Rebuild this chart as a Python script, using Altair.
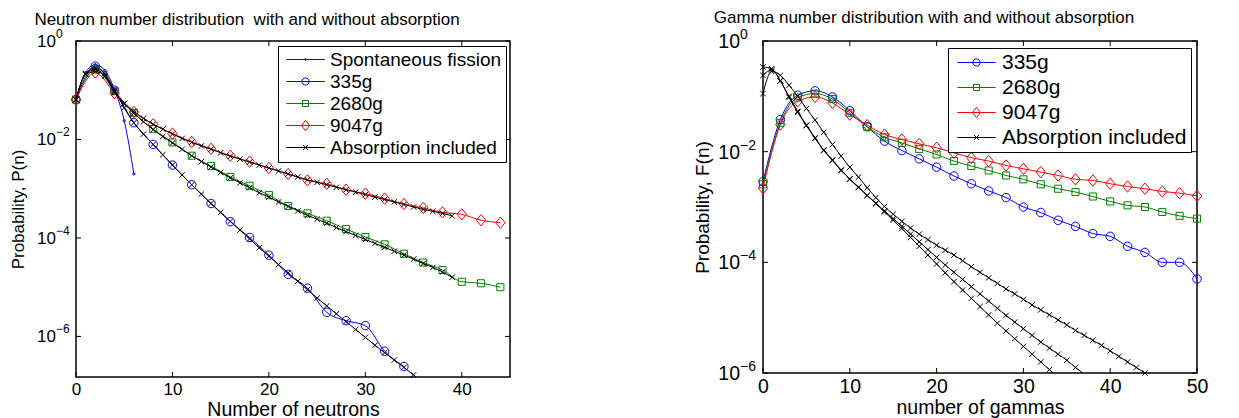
import altair as alt
import pandas as pd

FONT = "Liberation Sans"
BLUE, GREEN, RED, BLACK = "#0000ff", "#008000", "#ff0000", "#000000"
ABS = "Absorption included"

# ---------------- Neutron panel (log10 of probability) ----------------
sf_n = [0, 1, 2, 3, 4, 5, 6]
sf_log10 = [-1.18, -0.64, -0.48, -0.60, -0.99, -1.62, -2.70]

n_even_34 = [0, 2, 4, 6, 8, 10, 12, 14, 16, 18, 20, 22, 24, 26, 28, 30, 32, 34]
n_even_44 = [0, 2, 4, 6, 8, 10, 12, 14, 16, 18, 20, 22, 24, 26, 28, 30, 32, 34,
             36, 38, 40, 42, 44]
neutron_335g_log10 = [-1.19, -0.51, -1.00, -1.66, -2.10, -2.52, -2.92, -3.30, -3.67,
                      -3.99, -4.35, -4.74, -5.02, -5.51, -5.68, -5.78, -6.30, -6.61]
neutron_2680g_log10 = [-1.19, -0.58, -1.02, -1.46, -1.79, -2.06, -2.33, -2.54, -2.76,
                       -2.94, -3.13, -3.35, -3.50, -3.65, -3.82, -3.98, -4.13, -4.32,
                       -4.50, -4.65, -4.89, -4.92, -5.00]
neutron_9047g_log10 = [-1.19, -0.64, -1.06, -1.44, -1.69, -1.88, -2.05, -2.19, -2.33,
                       -2.45, -2.58, -2.70, -2.83, -2.90, -3.02, -3.10, -3.20, -3.31,
                       -3.39, -3.48, -3.52, -3.64, -3.69]

n_0_35 = list(range(36))
n_0_39 = list(range(40))
neutron_abs_335g_log10 = [-1.19, -0.66, -0.55, -0.66, -1.00, -1.36, -1.66, -1.89, -2.10,
                          -2.31, -2.52, -2.72, -2.92, -3.11, -3.30, -3.48, -3.66, -3.84,
                          -4.02, -4.20, -4.37, -4.54, -4.71, -4.88, -5.05, -5.22, -5.38,
                          -5.54, -5.70, -5.86, -6.02, -6.18, -6.33, -6.48, -6.63, -6.78]
neutron_abs_2680g_log10 = [-1.19, -0.67, -0.58, -0.70, -1.02, -1.27, -1.47, -1.64, -1.80,
                           -1.94, -2.07, -2.20, -2.33, -2.45, -2.56, -2.67, -2.78, -2.88,
                           -2.98, -3.08, -3.17, -3.27, -3.36, -3.45, -3.54, -3.62, -3.70,
                           -3.79, -3.87, -3.95, -4.03, -4.11, -4.19, -4.27, -4.35, -4.43,
                           -4.52, -4.60, -4.69, -4.80]
neutron_abs_9047g_log10 = [-1.19, -0.68, -0.62, -0.72, -1.05, -1.27, -1.43, -1.57, -1.69,
                           -1.79, -1.89, -1.98, -2.06, -2.13, -2.20, -2.27, -2.34, -2.40,
                           -2.46, -2.52, -2.58, -2.64, -2.70, -2.76, -2.82, -2.87, -2.92,
                           -2.97, -3.02, -3.07, -3.12, -3.17, -3.22, -3.27, -3.32, -3.37,
                           -3.42, -3.46, -3.50, -3.55]

# ---------------- Gamma panel (log10 of probability) ----------------
n_even_50 = [0, 2, 4, 6, 8, 10, 12, 14, 16, 18, 20, 22, 24, 26, 28, 30, 32, 34, 36,
             38, 40, 42, 44, 46, 48, 50]
gamma_335g_log10 = [-2.54, -1.42, -0.98, -0.90, -1.01, -1.26, -1.55, -1.81, -1.98, -2.13,
                    -2.28, -2.44, -2.58, -2.71, -2.83, -3.00, -3.10, -3.24, -3.35, -3.48,
                    -3.53, -3.71, -3.82, -4.00, -4.00, -4.30]
gamma_2680g_log10 = [-2.59, -1.48, -1.02, -0.95, -1.05, -1.30, -1.55, -1.74, -1.84, -1.95,
                     -2.05, -2.17, -2.26, -2.34, -2.43, -2.50, -2.59, -2.67, -2.73, -2.81,
                     -2.90, -2.97, -3.00, -3.09, -3.16, -3.21]
gamma_9047g_log10 = [-2.66, -1.51, -1.09, -1.01, -1.12, -1.33, -1.52, -1.69, -1.78, -1.86,
                     -1.93, -2.02, -2.11, -2.17, -2.25, -2.31, -2.37, -2.43, -2.50, -2.52,
                     -2.58, -2.63, -2.67, -2.72, -2.75, -2.80]

n_0_34 = list(range(35))
n_0_38 = list(range(39))
n_0_45 = list(range(46))
gamma_abs_a_log10 = [-0.47, -0.50, -0.72, -1.00, -1.27, -1.52, -1.75, -1.97, -2.15, -2.33,
                     -2.49, -2.64, -2.79, -2.94, -3.09, -3.24, -3.39, -3.55, -3.71, -3.87,
                     -4.03, -4.19, -4.35, -4.50, -4.65, -4.80, -4.95, -5.10, -5.24, -5.38,
                     -5.52, -5.66, -5.80, -5.94, -6.08]
gamma_abs_b_log10 = [-0.62, -0.52, -0.72, -1.02, -1.29, -1.53, -1.76, -1.98, -2.16, -2.34,
                     -2.50, -2.65, -2.79, -2.93, -3.07, -3.21, -3.35, -3.49, -3.63, -3.77,
                     -3.91, -4.05, -4.18, -4.31, -4.44, -4.57, -4.70, -4.83, -4.96, -5.08,
                     -5.20, -5.32, -5.44, -5.55, -5.66, -5.77, -5.90, -6.02, -6.14]
gamma_abs_c_log10 = [-0.95, -0.55, -0.62, -0.80, -1.00, -1.22, -1.43, -1.65, -1.87, -2.08,
                     -2.28, -2.46, -2.65, -2.83, -2.99, -3.13, -3.26, -3.38, -3.49, -3.59,
                     -3.69, -3.78, -3.87, -3.97, -4.08, -4.18, -4.28, -4.38, -4.48, -4.57,
                     -4.67, -4.77, -4.86, -4.95, -5.04, -5.13, -5.23, -5.32, -5.41, -5.50,
                     -5.60, -5.70, -5.80, -5.90, -6.00, -6.10]

# ---------------- ticks ----------------
ytick_values = [1.0, 1e-2, 1e-4, 1e-6]
ytick_base = ["10", "10", "10", "10"]
ytick_exp = ["0", "\u22122", "\u22124", "\u22126"]
xticks_neutron = [0, 10, 20, 30, 40]
xticks_gamma = [0, 10, 20, 30, 40, 50]

# legend symbols: line with marker (custom paths; symbol box is 16px, coords scaled by 8px)
P_LINE = "M-2.4,0L2.4,0"
LEG_DOT = P_LINE + "M-0.12,0A0.12,0.12,0,1,1,0.12,0A0.12,0.12,0,1,1,-0.12,0"
LEG_CIRCLE = P_LINE + "M-0.45,0A0.45,0.45,0,1,1,0.45,0A0.45,0.45,0,1,1,-0.45,0"
LEG_SQUARE = P_LINE + "M-0.38,-0.38L0.38,-0.38L0.38,0.38L-0.38,0.38Z"
LEG_DIAMOND = P_LINE + "M0,-0.65L0.5,0L0,0.65L-0.5,0Z"
LEG_X = P_LINE + "M-0.3,-0.3L0.3,0.3M-0.3,0.3L0.3,-0.3"

DIAMOND = "M0,-1.2L1,0L0,1.2L-1,0Z"
XMARK = "M-1,-1L1,1M-1,1L1,-1"


def panel(curves, series_domain, colors, markers, legend_paths, W, H, xdom, ydom,
          xticks, title, title_dx, title_dy, xtitle, ytitle, tick_fs, exp_fs, exp_dy,
          ytitle_fs, ytitle_pad, xtitle_fs, label_gap, leg_fs, leg_x, leg_y, leg_rowpad):
    rows = []
    for series, curve, ns, logs in curves:
        for n, lv in zip(ns, logs):
            rows.append({"n": n, "p": 10 ** lv, "series": series, "curve": curve})
    df = pd.DataFrame(rows)

    xs = alt.Scale(domain=xdom, nice=False, zero=False)
    ys = alt.Scale(type="log", domain=ydom, nice=False)
    xaxis = alt.Axis(values=xticks, format="d", ticks=False, domain=False, grid=False,
                     labelFont=FONT, labelFontSize=tick_fs, labelColor=BLACK,
                     labelPadding=4, labelFlush=False, title=xtitle, titleFont=FONT,
                     titleFontSize=xtitle_fs, titleFontWeight="normal",
                     titleColor=BLACK, titlePadding=3)
    yaxis = alt.Axis(labels=False, ticks=False, domain=False, grid=False, title=ytitle,
                     titleFont=FONT, titleFontSize=ytitle_fs, titleFontWeight="normal",
                     titleColor=BLACK, titlePadding=ytitle_pad)
    leg = alt.Legend(title=None, orient="none", legendX=leg_x, legendY=leg_y,
                     direction="vertical", fillColor="white", strokeColor=BLACK,
                     padding=4, cornerRadius=0, labelFont=FONT,
                     labelFontSize=leg_fs, labelColor=BLACK, labelLimit=500,
                     labelOffset=15, symbolOffset=14, symbolSize=256,
                     symbolStrokeWidth=1, rowPadding=leg_rowpad)
    cs = alt.Scale(domain=series_domain, range=colors)
    X = alt.X("n:Q", scale=xs, axis=xaxis)
    Y = alt.Y("p:Q", scale=ys, axis=yaxis)
    C = alt.Color("series:N", scale=cs, legend=leg)
    base = alt.Chart(df)

    layers = [
        base.transform_filter(alt.datum.series != ABS)
        .mark_line(clip=True, strokeWidth=1, interpolate="monotone")
        .encode(X, Y, C, detail="curve:N")
    ]
    for s in series_domain:
        if s == ABS:
            continue
        shape, size = markers[s]
        layers.append(
            base.transform_filter((alt.datum.series == s) & (alt.datum.p >= ydom[0] * 0.999))
            .mark_point(shape=shape, size=size, filled=False, strokeWidth=1, opacity=1)
            .encode(X, Y, C)
        )
    layers.append(
        base.transform_filter(alt.datum.series == ABS)
        .mark_line(clip=True, strokeWidth=1, interpolate="monotone")
        .encode(X, Y, C, detail="curve:N")
    )
    shape, size = markers[ABS]
    layers.append(
        base.transform_filter((alt.datum.series == ABS) & (alt.datum.p >= ydom[0] * 0.999))
        .mark_point(shape=shape, size=size, filled=False, strokeWidth=1, opacity=1)
        .encode(X, Y, C)
    )

    xt = alt.Chart(pd.DataFrame({"n": xticks}))
    yt = alt.Chart(pd.DataFrame({"p": ytick_values, "base": ytick_base, "exp": ytick_exp}))
    layers += [
        xt.mark_rule(color=BLACK, strokeWidth=1).encode(X, y=alt.value(H), y2=alt.value(H - 5)),
        xt.mark_rule(color=BLACK, strokeWidth=1).encode(X, y=alt.value(0), y2=alt.value(5)),
        yt.mark_rule(color=BLACK, strokeWidth=1).encode(Y, x=alt.value(0), x2=alt.value(5)),
        yt.mark_rule(color=BLACK, strokeWidth=1).encode(Y, x=alt.value(W), x2=alt.value(W - 5)),
        yt.mark_text(align="right", baseline="middle", font=FONT, fontSize=tick_fs,
                     color=BLACK, dy=1).encode(Y, x=alt.value(-label_gap), text="base:N"),
        yt.mark_text(align="left", baseline="middle", font=FONT, fontSize=exp_fs,
                     color=BLACK, dy=exp_dy).encode(Y, x=alt.value(-label_gap), text="exp:N"),
    ]
    # invisible layer that only carries the legend (line + marker symbols)
    layers.append(
        alt.Chart(pd.DataFrame({"series": series_domain}))
        .mark_point(strokeWidth=1, filled=False, opacity=0)
        .encode(x=alt.value(W / 2), y=alt.value(H / 2), color=C,
                shape=alt.Shape("series:N",
                                scale=alt.Scale(domain=series_domain, range=legend_paths),
                                legend=leg))
    )
    tp = alt.TitleParams(text=title, font=FONT, fontSize=17, fontWeight="normal",
                         color=BLACK, anchor="middle", frame="group", offset=10,
                         dx=title_dx, dy=title_dy)
    return alt.layer(*layers).properties(width=W, height=H, title=tp)


left = panel(
    curves=[
        ("Spontaneous fission", "sf", sf_n, sf_log10),
        ("335g", "m335", n_even_34, neutron_335g_log10),
        ("2680g", "m2680", n_even_44, neutron_2680g_log10),
        ("9047g", "m9047", n_even_44, neutron_9047g_log10),
        (ABS, "a335", n_0_35, neutron_abs_335g_log10),
        (ABS, "a2680", n_0_39, neutron_abs_2680g_log10),
        (ABS, "a9047", n_0_39, neutron_abs_9047g_log10),
    ],
    series_domain=["Spontaneous fission", "335g", "2680g", "9047g", ABS],
    colors=[BLUE, BLUE, GREEN, RED, BLACK],
    markers={"Spontaneous fission": ("circle", 5), "335g": ("circle", 72),
             "2680g": ("square", 50), "9047g": (DIAMOND, 90), ABS: (XMARK, 30)},
    legend_paths=[LEG_DOT, LEG_CIRCLE, LEG_SQUARE, LEG_DIAMOND, LEG_X],
    W=434, H=336, xdom=[0, 45], ydom=[1.5e-7, 1.0], xticks=xticks_neutron,
    title="Neutron number distribution\u00a0 with and without absorption",
    title_dx=-46, title_dy=11,
    xtitle="Number of neutrons", ytitle="Probability, P(n)",
    tick_fs=17, exp_fs=12, exp_dy=-7, ytitle_fs=17, ytitle_pad=49, xtitle_fs=19.5,
    label_gap=20, leg_fs=19, leg_x=202, leg_y=5, leg_rowpad=2,
)

right = panel(
    curves=[
        ("335g", "m335", n_even_50, gamma_335g_log10),
        ("2680g", "m2680", n_even_50, gamma_2680g_log10),
        ("9047g", "m9047", n_even_50, gamma_9047g_log10),
        (ABS, "aA", n_0_34, gamma_abs_a_log10),
        (ABS, "aB", n_0_38, gamma_abs_b_log10),
        (ABS, "aC", n_0_45, gamma_abs_c_log10),
    ],
    series_domain=["335g", "2680g", "9047g", ABS],
    colors=[BLUE, GREEN, RED, BLACK],
    markers={"335g": ("circle", 72), "2680g": ("square", 50), "9047g": (DIAMOND, 90),
             ABS: (XMARK, 30)},
    legend_paths=[LEG_CIRCLE, LEG_SQUARE, LEG_DIAMOND, LEG_X],
    W=434, H=332, xdom=[0, 50], ydom=[1e-6, 1.0], xticks=xticks_gamma,
    title="Gamma number distribution with and without absorption",
    title_dx=-56, title_dy=9,
    xtitle="number of gammas", ytitle="Probability, F(n)",
    tick_fs=19.5, exp_fs=14, exp_dy=-6, ytitle_fs=19, ytitle_pad=51, xtitle_fs=19.5,
    label_gap=23, leg_fs=21, leg_x=185, leg_y=7, leg_rowpad=3,
)

chart = (
    alt.hconcat(left, right, spacing=180)
    .resolve_scale(color="independent", shape="independent")
    .resolve_legend(color="independent", shape="independent")
    .configure_view(stroke=BLACK, strokeWidth=1.5)
    .properties(padding=0, background="white")
)

chart.save("out.html", embed_options={"renderer": "svg", "actions": False})
